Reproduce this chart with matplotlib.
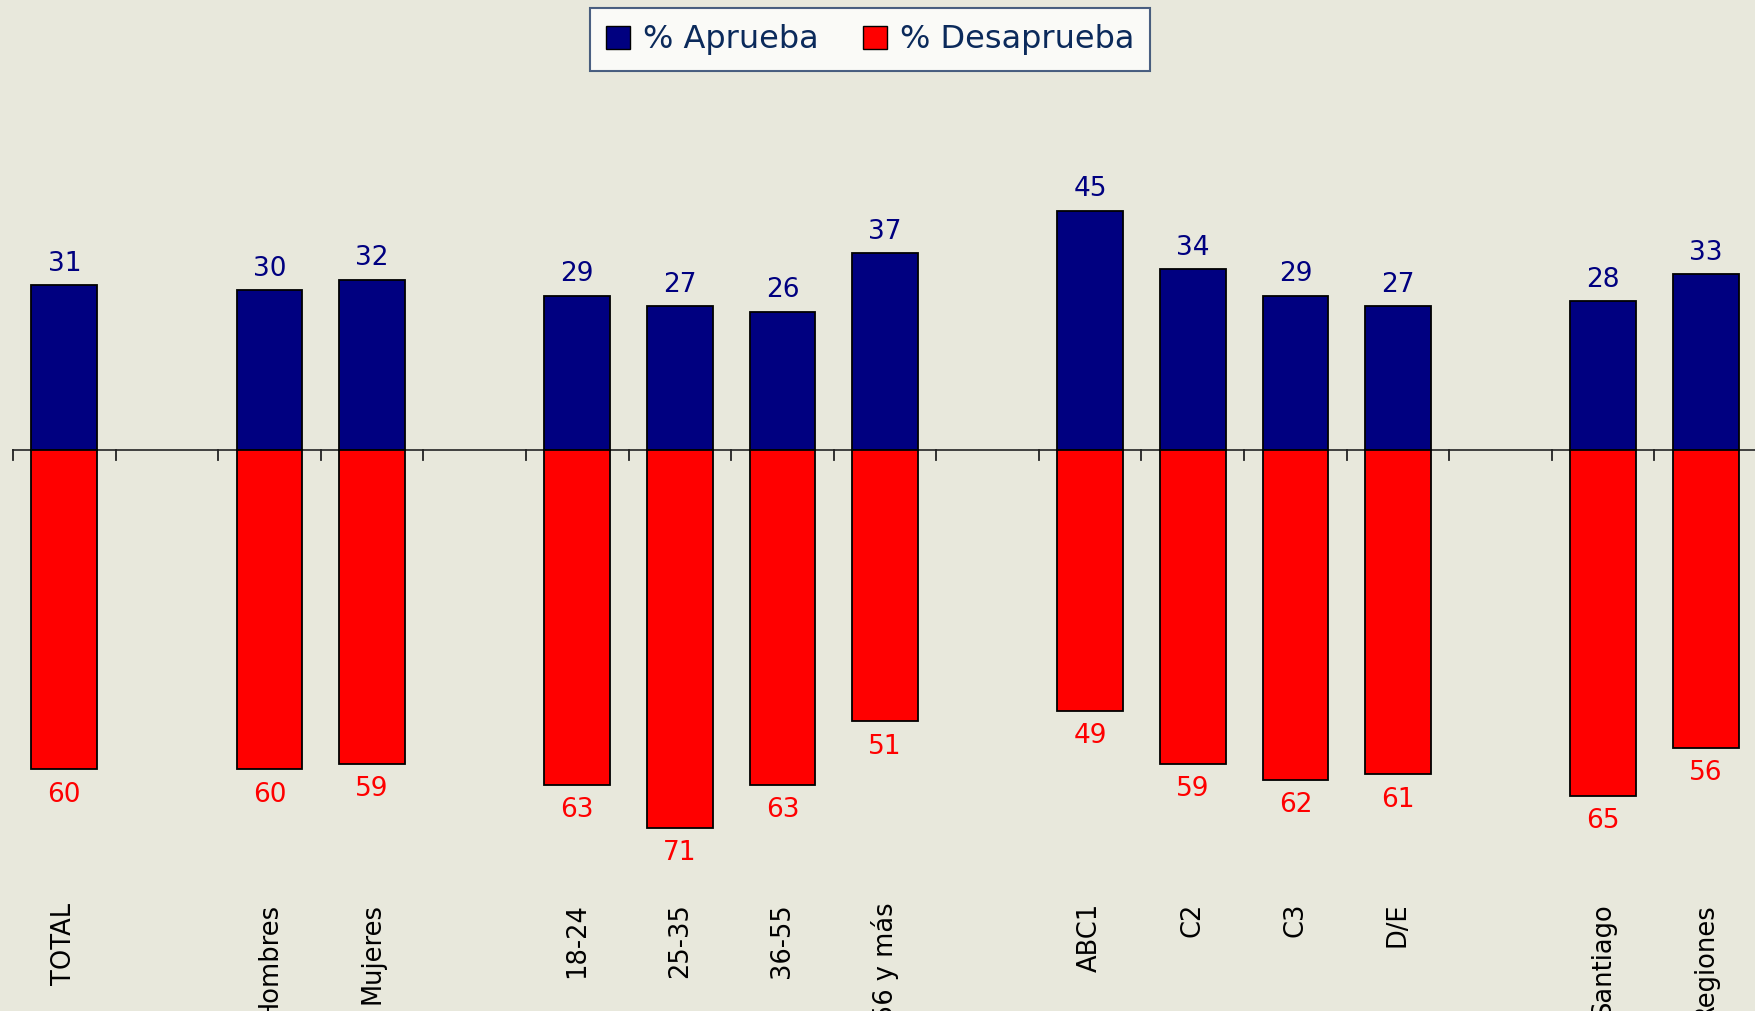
import matplotlib.pyplot as plt
from matplotlib.patches import Patch

# Aprobación / desaprobación por segmento
categorias = ['TOTAL', 'Hombres', 'Mujeres', '18-24', '25-35', '36-55', '56 y más',
              'ABC1', 'C2', 'C3', 'D/E', 'Santiago', 'Regiones']
aprueba = [31, 30, 32, 29, 27, 26, 37, 45, 34, 29, 27, 28, 33]
desaprueba = [60, 60, 59, 63, 71, 63, 51, 49, 59, 62, 61, 65, 56]
# slot positions (empty slots separate the groups)
slots = [0, 2, 3, 5, 6, 7, 8, 10, 11, 12, 13, 15, 16]

bg = '#E8E8DC'
navy = '#000080'
red = '#FF0000'

fig = plt.figure(figsize=(17.56, 10.11), dpi=100, facecolor=bg)
ax = fig.add_axes([0, 0, 1, 1])
ax.set_facecolor(bg)

w = 0.64
ax.bar(slots, aprueba, width=w, color=navy, edgecolor='black', linewidth=1.3, zorder=3)
ax.bar(slots, [-v for v in desaprueba], width=w, color=red, edgecolor='black',
       linewidth=1.3, zorder=3)

for x, a, d in zip(slots, aprueba, desaprueba):
    ax.annotate(str(a), (x, a), xytext=(0, 6), textcoords='offset points',
                ha='center', va='bottom', fontsize=19, color=navy)
    ax.annotate(str(d), (x, -d), xytext=(0, -9), textcoords='offset points',
                ha='center', va='top', fontsize=19, color=red)

# zero line with small downward ticks between slots
ax.plot([-0.5, 16.6], [0, 0], color='#333333', linewidth=1.3, zorder=2)
tick_len = 10 / 5.32
for b in range(17 + 1):
    xb = b - 0.5
    ax.plot([xb, xb], [0, -tick_len], color='#222222', linewidth=1.3, zorder=2)

ax.set_xlim(-0.627, 16.49)
ax.set_ylim(-105.5, 84.6)
ax.axis('off')

for x, lab in zip(slots, categorias):
    ax.text(x, 0.107, lab, transform=ax.get_xaxis_transform(), rotation=90,
            ha='center', va='top', fontsize=18.5, color='black')

handles = [Patch(facecolor=navy, edgecolor='black', label='% Aprueba'),
           Patch(facecolor=red, edgecolor='black', label='% Desaprueba')]
leg = fig.legend(handles=handles, loc='center', bbox_to_anchor=(0.4955, 0.9605), ncol=2,
                 fontsize=23, frameon=True, fancybox=False, handlelength=0.75,
                 handleheight=0.75, handletextpad=0.4, columnspacing=1.4,
                 borderpad=0.5, labelcolor='#0B2A5B')
leg.get_frame().set_edgecolor('#1F3A66')
leg.get_frame().set_linewidth(1.5)
leg.get_frame().set_facecolor('white')

fig.savefig('out.png', dpi=100, facecolor=bg)
